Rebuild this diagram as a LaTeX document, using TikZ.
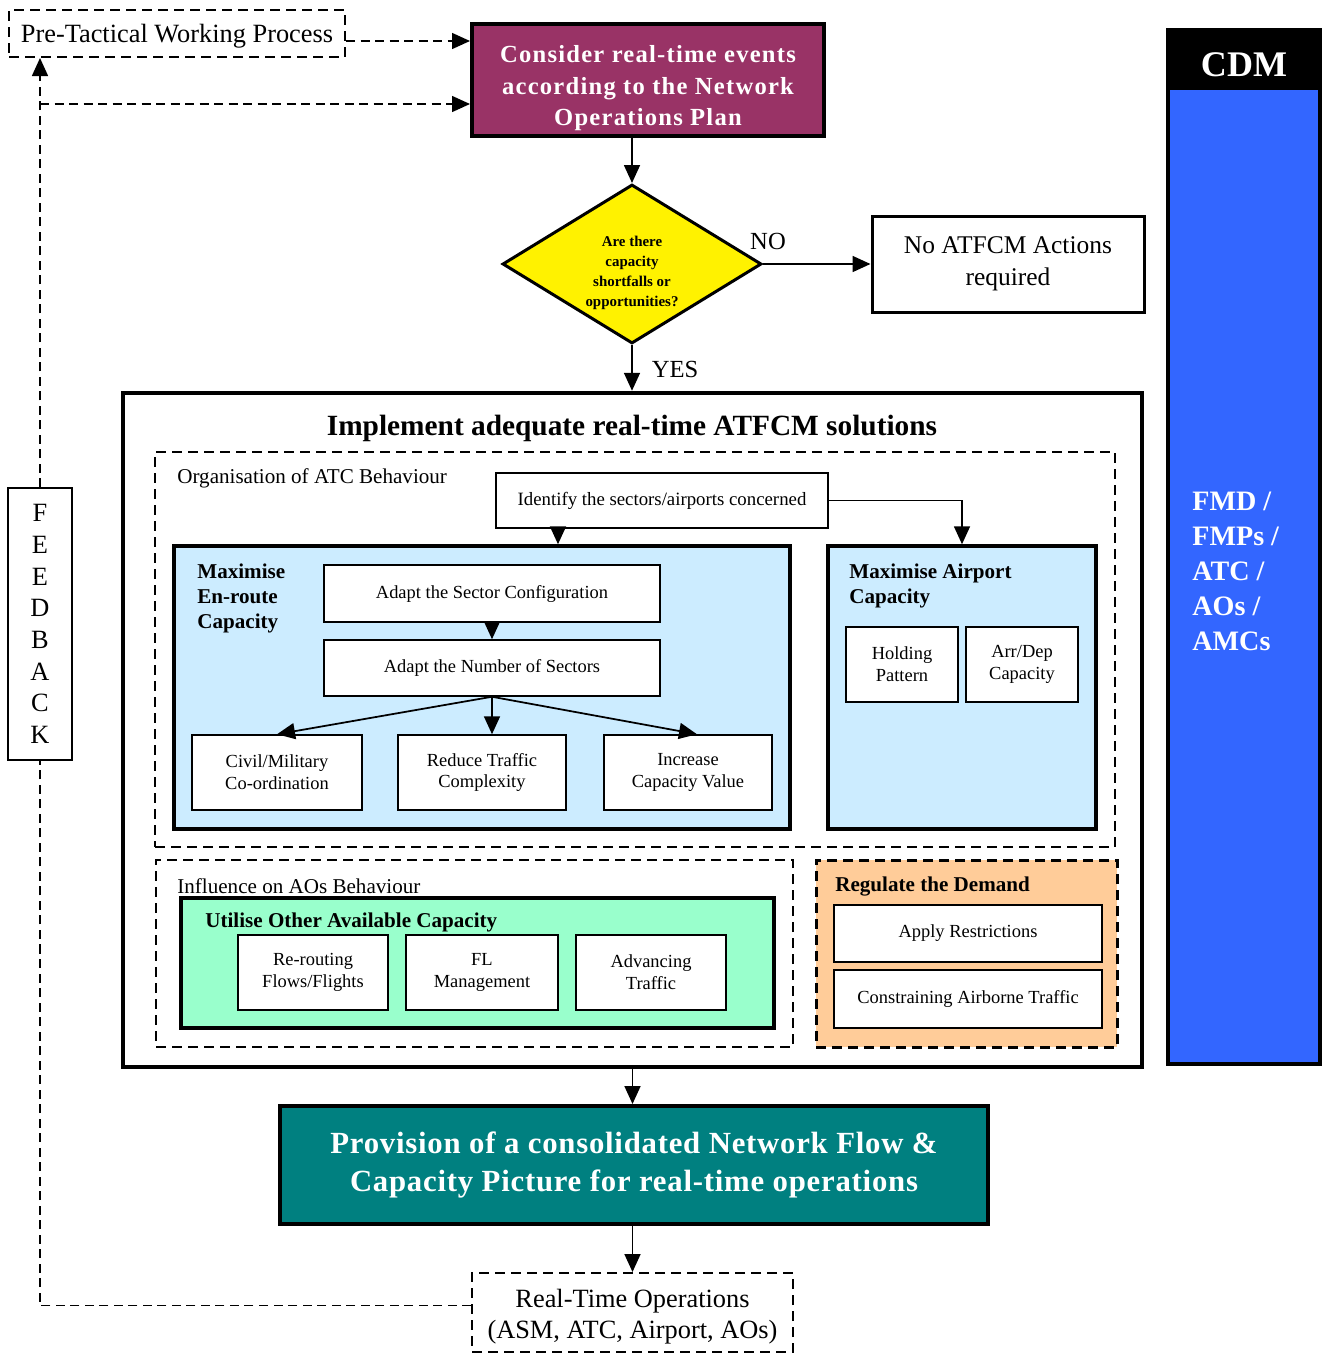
\documentclass[tikz,border=0pt]{standalone}
\usepackage{fontspec}
\setmainfont{Liberation Serif}
\usepackage{xcolor}
\definecolor{atfplum}{HTML}{993366}
\definecolor{atfsky}{HTML}{CCECFF}
\definecolor{atfmint}{HTML}{99FFCC}
\definecolor{atfpeach}{HTML}{FFCC99}
\definecolor{atfteal}{HTML}{008080}
\definecolor{atfblue}{HTML}{3366FF}
\usetikzlibrary{arrows.meta,positioning,shapes.geometric,calc}
\tikzset{
  atfsz/.style 2 args={minimum width=#1*0.2mm,minimum height=#2*0.2mm},
  atfplain/.style={draw,line width=0.3mm,fill=white,inner sep=0pt,align=center,font=\fontsize{10.5}{12.5}\selectfont},
  atfbox/.style={draw,line width=0.8mm,inner sep=0pt,align=center},
  atfdash/.style={draw,line width=0.4mm,dash pattern=on 2mm off 1.2mm,inner sep=0pt,align=center},
  atfflow/.style={-{Triangle[length=3.6mm,width=3.2mm]},line width=0.35mm},
  atfdline/.style={line width=0.3mm,dash pattern=on 1.8mm off 1.1mm},
  atfdflow/.style={atfflow,atfdline},
  atfhead/.style={font=\bfseries\fontsize{12}{14}\selectfont,align=left,inner sep=0pt},
  atflabel/.style={font=\fontsize{12}{14}\selectfont,anchor=west,inner sep=0pt},
}
\begin{document}
\begin{tikzpicture}[x=0.2mm,y=-0.2mm]
\useasboundingbox (0,0) rectangle (1324,1354);
% top of the process
\node[atfdash,atfsz={336}{47},font=\fontsize{15}{18}\selectfont] (pretac) at (177,33.5) {\rule{0pt}{14pt}Pre-Tactical Working Process};
\node[atfbox,fill=atfplum,text=white,atfsz={352}{112},font=\bfseries\fontsize{14}{18}\selectfont\addfontfeatures{LetterSpace=5}] (cons) at (648,80) {\rule{0pt}{19pt}Consider real-time events\\according to the Network\\Operations Plan};
\node[diamond,draw,fill=yellow,line width=0.6mm,shape aspect=1.63,atfsz={259}{159},inner sep=0pt,align=center,font=\bfseries\fontsize{8.5}{11.3}\selectfont] (dia) at (632,264) {\rule{0pt}{16pt}Are there\\capacity\\shortfalls or\\opportunities?};
\node[draw,line width=0.6mm,inner sep=0pt,align=center,atfsz={272}{96},font=\fontsize{14.5}{18}\selectfont] (noact) at (1008,264) {No ATFCM Actions\\required};
\node[font=\fontsize{14}{16}\selectfont] (nolab) at (768,241) {NO};
\node[font=\fontsize{14}{16}\selectfont] (yeslab) at (675,369) {YES};

% main block
\node[draw,line width=0.9mm,inner sep=0pt,atfsz={1019}{674}] (impl) at (632.5,730) {};
\node[font=\bfseries\fontsize{16.7}{18}\selectfont] (impltxt) at (632,428) {Implement adequate real-time ATFCM solutions};
\node[atfdash,atfsz={960}{395}] (atcorg) at (635,649.5) {};
\node[atflabel] (atclab) at (177,478) {Organisation of ATC Behaviour};
\node[atfplain,atfsz={332}{55},font=\fontsize{10.7}{12}\selectfont] (ident) at (662,500.5) {Identify the sectors/airports concerned};
\node[atfbox,fill=atfsky,line width=0.7mm,atfsz={616}{283}] (enr) at (482,687.5) {};
\node[atfhead,anchor=north west] (enrlab) at (197,564) {Maximise\\En-route\\Capacity};
\node[atfplain,atfsz={336}{57}] (cfg) at (492,593.5) {Adapt the Sector Configuration};
\node[atfplain,atfsz={336}{56}] (num) at (492,668) {Adapt the Number of Sectors};
\node[atfplain,atfsz={170}{75}] (civ) at (277,772.5) {Civil/Military\\Co-ordination};
\node[atfplain,atfsz={168}{75}] (red) at (482,772.5) {Reduce Traffic\\Complexity};
\node[atfplain,atfsz={168}{75}] (inc) at (688,772.5) {Increase\\Capacity Value};
\node[atfbox,fill=atfsky,line width=0.7mm,atfsz={268}{283}] (apt) at (962,687.5) {};
\node[atfhead,anchor=north west] (aptlab) at (849,564) {Maximise Airport\\Capacity};
\node[atfplain,atfsz={112}{75}] (hold) at (902,664.5) {Holding\\Pattern};
\node[atfplain,atfsz={112}{75}] (arr) at (1022,664.5) {Arr/Dep\\Capacity};

\node[atfdash,atfsz={637}{187}] (aobeh) at (474.5,953.5) {};
\node[atflabel] (aolab) at (177,886) {Influence on AOs Behaviour};
\node[atfbox,fill=atfmint,atfsz={593}{130}] (util) at (477.5,963) {};
\node[atfhead,anchor=west] (utillab) at (205,922) {Utilise Other Available Capacity};
\node[atfplain,atfsz={150}{75}] (rer) at (313,972.5) {Re-routing\\Flows/Flights};
\node[atfplain,atfsz={152}{75}] (flm) at (482,972.5) {FL\\Management};
\node[atfplain,atfsz={150}{75}] (adv) at (651,972.5) {Advancing\\Traffic};
\node[atfdash,fill=atfpeach,line width=0.6mm,atfsz={301}{187}] (reg) at (966.5,953.5) {};
\node[atfhead,anchor=west] (reglab) at (835,886) {Regulate the Demand};
\node[atfplain,atfsz={268}{57}] (apply) at (968,933.5) {Apply Restrictions};
\node[atfplain,atfsz={268}{58}] (constr) at (968,999) {Constraining Airborne Traffic};

% bottom of the process
\node[atfbox,fill=atfteal,text=white,atfsz={708}{118},font=\bfseries\fontsize{17.5}{21.5}\selectfont\addfontfeatures{LetterSpace=2.5}] (prov) at (634,1165) {Provision of a consolidated Network Flow \&\\Capacity Picture for real-time operations};
\node[atfdash,atfsz={321}{79},font=\fontsize{15}{18}\selectfont] (rto) at (632.5,1312.5) {\rule{0pt}{15pt}Real-Time Operations\\(ASM, ATC, Airport, AOs)};
\node[atfplain,atfsz={64}{272},font=\fontsize{15}{18}\selectfont] (fb) at (40,624) {F\\E\\E\\D\\B\\A\\C\\K};

% CDM column
\node[draw,fill=atfblue,line width=0.7mm,inner sep=0pt,atfsz={152}{1034}] (cdm) at (1244,547) {};
\node[fill=black,inner sep=0pt,text=white,atfsz={148}{58},font=\bfseries\fontsize{20.5}{22}\selectfont] (cdmhd) at (1244,61) {\rule{0pt}{18pt}CDM};
\node[anchor=north west,inner sep=0pt,align=left,text=white,font=\bfseries\fontsize{16}{19.8}\selectfont] (cdmtxt) at (1192,492) {FMD /\\FMPs /\\ATC /\\AOs /\\AMCs};

% connectors
\coordinate (fbk) at (40,104);
\draw[atfdflow] ([yshift=-1.5mm]pretac.east) -- ([yshift=-1.5mm]pretac.east -| cons.west);
\draw[atfdflow] (fbk) -- (fbk -| cons.west);
\draw[atfdline] ([yshift=1.4mm]rto.west) -| (fb.south);
\draw[atfdflow] (fb.north) -- (fb.north |- pretac.south);
\draw[atfflow] (dia.north |- cons.south) -- (dia.north);
\draw[atfflow] (dia.east) -- (noact.west);
\draw[atfflow] (dia.south) -- (dia.south |- impl.north);
\draw[atfflow] ([xshift=-20.8mm]ident.south) -- ([xshift=-20.8mm]ident.south |- enr.north);
\draw[atfflow] (ident.east) -| (apt.north);
\draw[atfflow] (cfg.south) -- (num.north);
\draw[atfflow] (num.south) -- (civ.north);
\draw[atfflow] (num.south) -- (num.south |- red.north);
\draw[atfflow] (num.south) -- ([xshift=1.8mm]inc.north);
\draw[atfflow] (impl.south) -- (impl.south |- prov.north);
\draw[atfflow] (rto.north |- prov.south) -- (rto.north);
\end{tikzpicture}
\end{document}
